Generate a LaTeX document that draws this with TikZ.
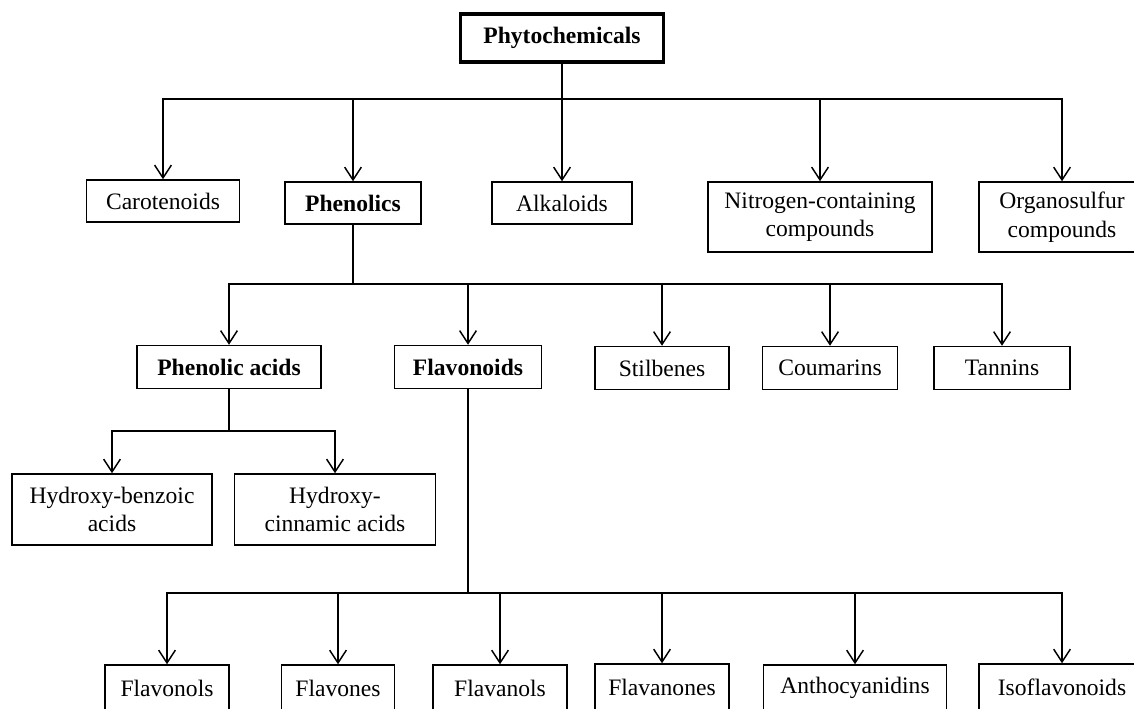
\documentclass[tikz,border=0pt]{standalone}
\usepackage{fontspec}
\setmainfont{Liberation Serif}
\usetikzlibrary{arrows.meta}

\begin{document}
\begin{tikzpicture}[x=0.509pt, y=-0.509pt,
        box/.style={draw, line width=0.75pt, align=center, inner sep=0pt, font=\fontsize{12}{14.5}\selectfont},
        sz/.style 2 args={minimum width=#1*0.509pt, minimum height=#2*0.509pt},
        arr/.style={line width=0.75pt, -{Straight Barb[length=6.5pt,width=8.5pt]}}]
            \useasboundingbox (0,0) rectangle (1134,709);
            \clip (0,0) rectangle (1134,709);
            % top
            \node[box, sz={203}{48}, line width=1.6pt, font=\fontsize{12}{14.5}\selectfont\bfseries] (phyto) at (562,38) {Phytochemicals};
            % first row
            \node[box, sz={153}{42}] (caro) at (163,201) {Carotenoids};
            \node[box, sz={136}{42}, font=\fontsize{12}{14.5}\selectfont\bfseries] (phen) at (353,203) {Phenolics};
            \node[box, sz={140}{42}] (alka) at (562,203) {Alkaloids};
            \node[box, sz={224}{70}] (nitro) at (820,217) {Nitrogen-containing\\compounds};
            \node[box, sz={166}{70}] (orgs) at (1062,217) {Organosulfur\\compounds};
            % second row
            \node[box, sz={184}{43}, font=\fontsize{12}{14.5}\selectfont\bfseries] (pacid) at (229,367) {Phenolic acids};
            \node[box, sz={147}{43}, font=\fontsize{12}{14.5}\selectfont\bfseries] (flav) at (468,367) {Flavonoids};
            \node[box, sz={134}{43}] (stil) at (662,368) {Stilbenes};
            \node[box, sz={135}{43}] (coum) at (830,368) {Coumarins};
            \node[box, sz={136}{43}] (tann) at (1002,368) {Tannins};
            % phenolic acids
            \node[box, sz={200}{71}] (hba) at (112,509.5) {Hydroxy-benzoic\\acids};
            \node[box, sz={201}{71}] (hca) at (335,509.5) {Hydroxy-\\cinnamic acids};
            % flavonoids
            \node[box, sz={124}{46}] (flvl) at (167,688) {Flavonols};
            \node[box, sz={113}{46}] (flvn) at (338,688) {Flavones};
            \node[box, sz={134}{46}] (flva) at (500,688) {Flavanols};
            \node[box, sz={134}{46}] (flvnn) at (662,687) {Flavanones};
            \node[box, sz={183}{46}] (antho) at (855,688) {Anthocyanidins};
            \node[box, sz={166}{46}] (isof) at (1062,687) {Isoflavonoids};
            % buses
            \coordinate (bus0) at (0,99);
            \coordinate (bus1) at (0,284);
            \coordinate (bus2) at (0,431);
            \coordinate (bus3) at (0,593);
            \foreach \n in {caro,phen,alka,nitro,orgs}
                \draw[arr] (phyto.south) -- (phyto.south |- bus0) -| (\n.north);
            \foreach \n in {pacid,flav,stil,coum,tann}
                \draw[arr] (phen.south) -- (phen.south |- bus1) -| (\n.north);
            \foreach \n in {hba,hca}
                \draw[arr] (pacid.south) -- (pacid.south |- bus2) -| (\n.north);
            \foreach \n in {flvl,flvn,flva,flvnn,antho,isof}
                \draw[arr] (flav.south) -- (flav.south |- bus3) -| (\n.north);
        \end{tikzpicture}
\end{document}
